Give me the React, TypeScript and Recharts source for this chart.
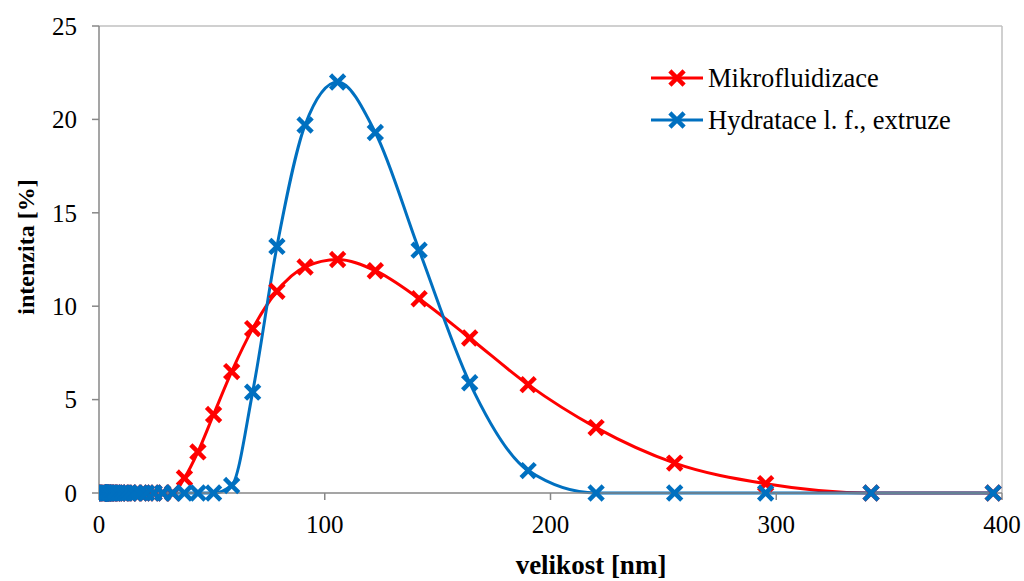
import { LineChart, Line, XAxis, YAxis, ReferenceLine } from 'recharts'

// size bins [nm]
const sizes = [
  0.4, 0.4632, 0.5365, 0.6213, 0.7195, 0.8332, 0.9649, 1.117, 1.294, 1.499, 1.736, 2.01,
  2.328, 2.696, 3.122, 3.615, 4.187, 4.849, 5.615, 6.503, 7.531, 8.721, 10.1, 11.7,
  13.54, 15.69, 18.17, 21.04, 24.36, 28.21, 32.67, 37.84, 43.82, 50.75, 58.77, 68.06,
  78.82, 91.28, 105.7, 122.4, 141.8, 164.2, 190.1, 220.2, 255.0, 295.3, 342.0, 396.1,
]
const mikro = [
  0, 0, 0, 0, 0, 0, 0, 0, 0, 0, 0, 0,
  0, 0, 0, 0, 0, 0, 0, 0, 0, 0, 0, 0,
  0, 0, 0, 0, 0, 0, 0, 0.8, 2.2, 4.2, 6.5, 8.8,
  10.8, 12.1, 12.5, 11.9, 10.4, 8.3, 5.8, 3.5, 1.6, 0.5, 0, 0,
]
const hydratace = [
  0, 0, 0, 0, 0, 0, 0, 0, 0, 0, 0, 0,
  0, 0, 0, 0, 0, 0, 0, 0, 0, 0, 0, 0,
  0, 0, 0, 0, 0, 0, 0, 0, 0, 0, 0.4, 5.4,
  13.2, 19.7, 22.0, 19.3, 13.0, 5.9, 1.2, 0, 0, 0, 0, 0,
]
const xTicks = [0, 100, 200, 300, 400]
const yTicks = [0, 5, 10, 15, 20, 25]
const seriesNames = ['Mikrofluidizace', 'Hydratace l. f., extruze']
const RED = '#ff0000'
const BLUE = '#0070c0'
const FONT = '"Liberation Serif", "Times New Roman", serif'

const rows = sizes.map((s, i) => ({ size: s, mikro: mikro[i], hydr: hydratace[i] }))

function cross(color: string) {
  return (props: any) => {
    const { cx, cy, index } = props
    if (cx == null || cy == null) return <g key={index} />
    const r = 5.5
    return (
      <g key={index}>
        <line x1={cx - r} y1={cy - r} x2={cx + r} y2={cy + r} stroke={color} strokeWidth={4.5} strokeLinecap="square" />
        <line x1={cx - r} y1={cy + r} x2={cx + r} y2={cy - r} stroke={color} strokeWidth={4.5} strokeLinecap="square" />
      </g>
    )
  }
}

function LegendBox() {
  const items = [{ name: seriesNames[0], color: RED }, { name: seriesNames[1], color: BLUE }]
  return (
    <div style={{ position: 'absolute', left: 649, top: 57, fontFamily: FONT, fontSize: 26.5, color: '#000', lineHeight: 1 }}>
      {items.map((it) => (
        <div key={it.name} style={{ display: 'flex', alignItems: 'center', height: 42 }}>
          <svg width={56} height={20} style={{ marginRight: 3 }}>
            <line x1={2} y1={10} x2={54} y2={10} stroke={it.color} strokeWidth={3} />
            <line x1={22.5} y1={4.5} x2={33.5} y2={15.5} stroke={it.color} strokeWidth={4.5} strokeLinecap="square" />
            <line x1={22.5} y1={15.5} x2={33.5} y2={4.5} stroke={it.color} strokeWidth={4.5} strokeLinecap="square" />
          </svg>
          <span>{it.name}</span>
        </div>
      ))}
    </div>
  )
}

export default function App() {
  const tickStyle = { fontFamily: FONT, fontSize: 25, fill: '#000' }
  return (
    <div style={{ position: 'absolute', left: 0, top: 0, width: 1024, height: 581, background: '#fff' }}>
      <LineChart width={1024} height={581} data={rows} margin={{ top: 26, right: 22, left: 0, bottom: 0 }}>
        <XAxis
          dataKey="size" type="number" domain={[0, 400]} ticks={xTicks} allowDataOverflow
          axisLine={{ stroke: '#878787', strokeWidth: 1.5 }} tickLine={{ stroke: '#878787', strokeWidth: 1.5 }}
          tickSize={7} tickMargin={15} height={88} tick={tickStyle}
          label={{
            content: () => (
              <text x={591} y={574} textAnchor="middle" fontFamily={FONT} fontSize={27} fontWeight="bold" fill="#000">
                velikost [nm]
              </text>
            ),
          }}
        />
        <YAxis
          type="number" domain={[0, 25]} ticks={yTicks} width={99}
          axisLine={{ stroke: '#878787', strokeWidth: 1.5 }} tickLine={{ stroke: '#878787', strokeWidth: 1.5 }}
          tickSize={7} tickMargin={15} tick={tickStyle}
          label={{
            content: () => (
              <text x={0} y={0} transform="translate(34,247) rotate(-90)" textAnchor="middle" fontFamily={FONT} fontSize={24} fontWeight="bold" fill="#000">
                intenzita [%]
              </text>
            ),
          }}
        />
        <ReferenceLine y={25} stroke="#c0c0c0" strokeWidth={1.5} />
        <ReferenceLine x={400} stroke="#c0c0c0" strokeWidth={1.5} />
        <Line
          name={seriesNames[0]} dataKey="mikro" type="monotone" stroke={RED} strokeWidth={3}
          dot={cross(RED)} activeDot={false} isAnimationActive={false}
        />
        <Line
          name={seriesNames[1]} dataKey="hydr" type="monotone" stroke={BLUE} strokeWidth={3}
          dot={cross(BLUE)} activeDot={false} isAnimationActive={false}
        />
      </LineChart>
      <LegendBox />
    </div>
  )
}
